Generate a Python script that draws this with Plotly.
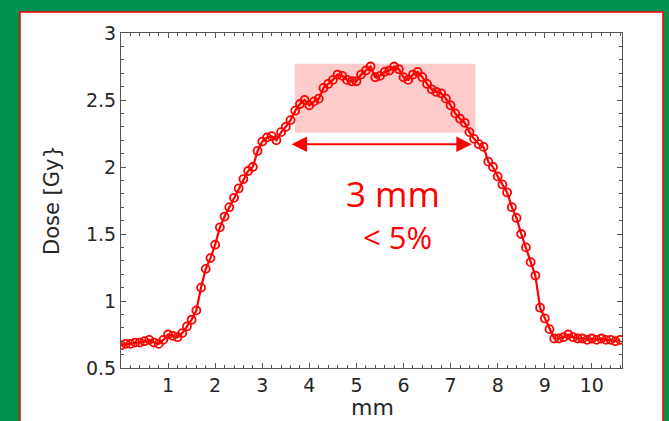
import plotly.graph_objects as go

# ---- data ----
pos_mm = [0.0, 0.1, 0.2, 0.3, 0.4, 0.5, 0.6, 0.7, 0.8, 0.9,
          1.0, 1.1, 1.2, 1.3, 1.4, 1.5, 1.6, 1.7, 1.8, 1.9,
          2.0, 2.1, 2.2, 2.3, 2.4, 2.5, 2.6, 2.7, 2.8, 2.9,
          3.0, 3.1, 3.2, 3.3, 3.4, 3.5, 3.6, 3.7, 3.8, 3.9,
          4.0, 4.1, 4.2, 4.3, 4.4, 4.5, 4.6, 4.7, 4.8, 4.9,
          5.0, 5.1, 5.2, 5.3, 5.4, 5.5, 5.6, 5.7, 5.8, 5.9,
          6.0, 6.1, 6.2, 6.3, 6.4, 6.5, 6.6, 6.7, 6.8, 6.9,
          7.0, 7.1, 7.2, 7.3, 7.4, 7.5, 7.6, 7.7, 7.8, 7.9,
          8.0, 8.1, 8.2, 8.3, 8.4, 8.5, 8.6, 8.7, 8.8, 8.9,
          9.0, 9.1, 9.2, 9.3, 9.4, 9.5, 9.6, 9.7, 9.8, 9.9,
          10.0, 10.1, 10.2, 10.3, 10.4, 10.5, 10.6]
dose_gy = [0.67, 0.68, 0.68, 0.69, 0.69, 0.70, 0.71, 0.69, 0.68, 0.71,
           0.75, 0.74, 0.73, 0.76, 0.81, 0.86, 0.93, 1.10, 1.24, 1.32,
           1.42, 1.55, 1.63, 1.70, 1.77, 1.84, 1.91, 1.97, 2.00, 2.12,
           2.19, 2.22, 2.23, 2.20, 2.26, 2.30, 2.35, 2.42, 2.47, 2.50,
           2.46, 2.49, 2.51, 2.59, 2.62, 2.65, 2.69, 2.68, 2.65, 2.64,
           2.64, 2.69, 2.72, 2.75, 2.67, 2.68, 2.71, 2.72, 2.75, 2.73,
           2.67, 2.65, 2.69, 2.71, 2.67, 2.62, 2.58, 2.56, 2.55, 2.51,
           2.46, 2.40, 2.36, 2.33, 2.26, 2.21, 2.17, 2.15, 2.04, 2.00,
           1.93, 1.87, 1.81, 1.70, 1.62, 1.50, 1.40, 1.29, 1.19, 0.95,
           0.87, 0.79, 0.72, 0.72, 0.73, 0.75, 0.73, 0.72, 0.72, 0.71,
           0.72, 0.71, 0.72, 0.71, 0.71, 0.70, 0.71]

x_ticks = [1, 2, 3, 4, 5, 6, 7, 8, 9, 10]
y_ticks = [0.5, 1, 1.5, 2, 2.5, 3]
y_tick_labels = ["0.5", "1", "1.5", "2", "2.5", "3"]

plateau_x = [3.69, 7.53]
plateau_y = [2.256, 2.77]
arrow_x = [3.59, 7.45]
arrow_y = 2.17

RED = "#FF0000"
GREEN = "#009150"
AX = "#555555"
TXT = "#262626"

fig = go.Figure()
fig.add_trace(go.Scatter(
    x=pos_mm, y=dose_gy, mode="lines+markers",
    line=dict(color=RED, width=2.2),
    marker=dict(symbol="circle-open", size=8, color=RED, line=dict(width=1.8, color=RED)),
    showlegend=False, hoverinfo="skip"))

# white panel with red border on green background
fig.add_shape(type="rect", xref="paper", yref="paper",
              x0=-0.2016, x1=1.0818, y0=-0.25, y1=1.0627,
              fillcolor="white", line=dict(color=RED, width=1.5), layer="below")
# plateau highlight
fig.add_shape(type="rect", xref="x", yref="y",
              x0=plateau_x[0], x1=plateau_x[1], y0=plateau_y[0], y1=plateau_y[1],
              fillcolor="#FFCCCC", line=dict(width=0), layer="below")

# double arrow
fig.add_annotation(x=arrow_x[1], y=arrow_y, ax=arrow_x[0], ay=arrow_y,
                   xref="x", yref="y", axref="x", ayref="y", text="",
                   showarrow=True, arrowhead=2, startarrowhead=2, arrowside="end+start",
                   arrowwidth=2, arrowsize=1.55, startarrowsize=1.55, arrowcolor=RED,
                   standoff=0, startstandoff=0)


def px2paper(px, py):
    return (px - 121) / 501.0, (368 - py) / 335.0


for txt, (px, py), sz in [("3 mm", (393, 193), 35), ("&lt; 5%", (397, 237), 31)]:
    xp, yp = px2paper(px, py)
    fig.add_annotation(x=xp, y=yp, xref="paper", yref="paper", text=txt,
                       showarrow=False, xanchor="center", yanchor="middle",
                       font=dict(family="Open Sans", size=sz, color=RED))

# axis titles
xp, yp = px2paper(52, 200)
fig.add_annotation(x=xp, y=yp, xref="paper", yref="paper", text="Dose [Gy}",
                   showarrow=False, textangle=-90, xanchor="center", yanchor="middle",
                   font=dict(family="DejaVu Sans", size=21, color=TXT))
xp, yp = px2paper(372, 407)
fig.add_annotation(x=xp, y=yp, xref="paper", yref="paper", text="mm",
                   showarrow=False, xanchor="center", yanchor="middle",
                   font=dict(family="DejaVu Sans", size=22, color=TXT))

fig.update_xaxes(range=[0, 10.64], tickvals=x_ticks, ticks="inside", ticklen=5,
                 tickcolor=AX, showline=True, linecolor=AX, linewidth=1.2, mirror="ticks",
                 showgrid=False, zeroline=False,
                 minor=dict(ticks="inside", dtick=0.2, ticklen=3, tickcolor=AX),
                 tickfont=dict(family="DejaVu Sans", size=19, color=TXT))
fig.update_yaxes(range=[0.5, 3], tickvals=y_ticks, ticktext=y_tick_labels, ticks="inside",
                 ticklen=5, tickcolor=AX, showline=True, linecolor=AX, linewidth=1.2,
                 mirror="ticks", showgrid=False, zeroline=False,
                 minor=dict(ticks="inside", dtick=0.1, ticklen=3, tickcolor=AX),
                 tickfont=dict(family="DejaVu Sans", size=19, color=TXT))

fig.update_layout(width=669, height=421, margin=dict(l=121, r=47, t=33, b=53),
                  paper_bgcolor=GREEN, plot_bgcolor="white")
fig.write_html("out.html")
